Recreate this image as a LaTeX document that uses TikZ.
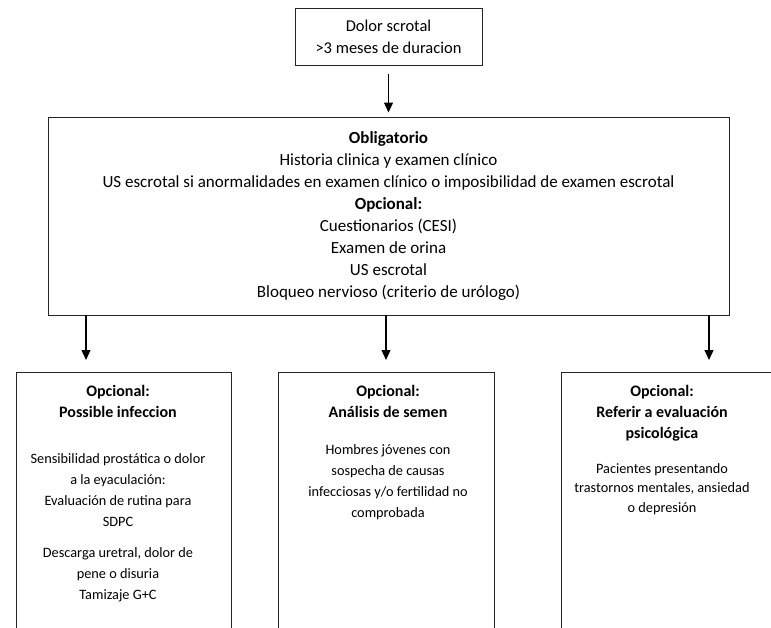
\documentclass[tikz,border=0pt]{standalone}
\usepackage{fontspec}
\setmainfont{Carlito}
\usetikzlibrary{arrows.meta,calc}
\newcommand{\hd}[1]{{\fontsize{16}{21}\selectfont\bfseries #1}}
\begin{document}
\begin{tikzpicture}[x=1pt,y=-1pt,
  box/.style={draw=black!85, line width=0.9pt},
  arr/.style={line width=1.2pt,-{Triangle[length=10pt,width=9pt]}},
  bigtxt/.style={font=\fontsize{17}{22}\selectfont, align=center},
  toptxt/.style={font=\fontsize{16.5}{22}\selectfont, align=center},
  smalltxt/.style={font=\fontsize{14.3}{21}\selectfont, align=center, inner sep=0pt, anchor=north}]
\useasboundingbox (0,0) rectangle (771,628);
\node[box, minimum width=187pt, minimum height=57pt, toptxt, inner sep=0pt] (top) at (388.5,36.5)
  {Dolor scrotal\\>3 meses de duracion};
\node[box, minimum width=681pt, minimum height=198pt, bigtxt, inner sep=0pt] (main) at (388.5,216)
  {\textbf{Obligatorio}\\
   Historia clinica y examen clínico\\
   US escrotal si anormalidades en examen clínico o imposibilidad de examen escrotal\\
   \textbf{Opcional:}\\
   Cuestionarios (CESI)\\
   Examen de orina\\
   US escrotal\\
   Bloqueo nervioso (criterio de urólogo)};
\draw[arr, shorten <=9pt, shorten >=4pt] (top) -- (main);
\begin{scope}
\clip (0,0) rectangle (771,628);
\node[box, minimum width=215pt, minimum height=280pt, anchor=north west, inner sep=0pt] (b1) at (16,372) {};
\node[box, minimum width=216pt, minimum height=280pt, anchor=north west, inner sep=0pt] (b2) at (278,372) {};
\node[box, minimum width=215pt, minimum height=280pt, anchor=north west, inner sep=0pt] (b3) at (561,372) {};
\end{scope}
\coordinate (p1) at (86,360);
\coordinate (p2) at (386,360);
\coordinate (p3) at (709,360);
\draw[arr] (main.south -| p1) -- (p1);
\draw[arr] (main.south -| p2) -- (p2);
\draw[arr] (main.south -| p3) -- (p3);
\node[smalltxt] (t1) at (118,385)
  {\hd{Opcional:}\\\hd{Possible infeccion}\\[25pt]
   Sensibilidad prostática o dolor\\a la eyaculación:\\Evaluación de rutina para\\SDPC\\[10pt]
   Descarga uretral, dolor de\\pene o disuria\\Tamizaje G+C};
\node[smalltxt] (t2) at (388,385)
  {\hd{Opcional:}\\\hd{Análisis de semen}\\[16pt]
   Hombres jóvenes con\\sospecha de causas\\infecciosas y/o fertilidad no\\comprobada};
\node[smalltxt] (t3) at (662,385)
  {\hd{Opcional:}\\\hd{Referir a evaluación}\\\hd{psicológica}\\[14pt]
   Pacientes presentando\\[-1.5pt]trastornos mentales, ansiedad\\[-1.5pt]o depresión};
\end{tikzpicture}
\end{document}
